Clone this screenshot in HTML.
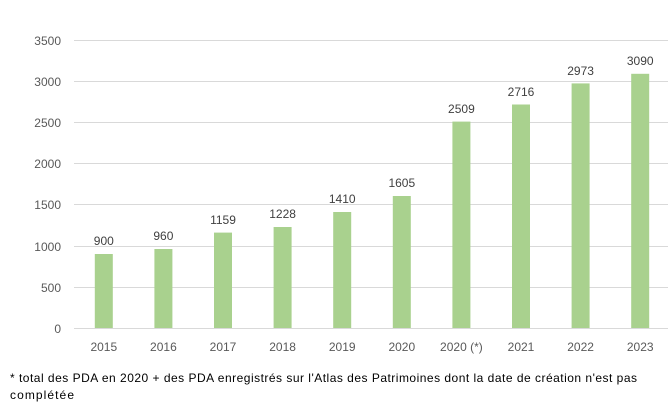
<!DOCTYPE html>
<html><head><meta charset="utf-8"><style>
body{margin:0;background:#fff;}
svg{display:block;font-family:"Liberation Sans",sans-serif;}
</style></head><body>
<svg width="668" height="410" xmlns="http://www.w3.org/2000/svg">
<g stroke="#d9d9d9" stroke-width="1">
<line x1="74" x2="668" y1="40.5" y2="40.5"/>
<line x1="74" x2="668" y1="81.5" y2="81.5"/>
<line x1="74" x2="668" y1="122.5" y2="122.5"/>
<line x1="74" x2="668" y1="163.5" y2="163.5"/>
<line x1="74" x2="668" y1="204.5" y2="204.5"/>
<line x1="74" x2="668" y1="246.5" y2="246.5"/>
<line x1="74" x2="668" y1="287.5" y2="287.5"/>
<line x1="74" x2="668" y1="328.5" y2="328.5"/>
</g>
<g fill="#595959" font-size="12" text-anchor="end">
<text x="61" y="45">3500</text><text x="61" y="86">3000</text><text x="61" y="127">2500</text>
<text x="61" y="168">2000</text><text x="61" y="209">1500</text><text x="61" y="251">1000</text>
<text x="61" y="292">500</text><text x="61" y="333">0</text>
</g>
<g fill="#a9d18e">
<rect x="94.8" y="254" width="18" height="74"/>
<rect x="154.4" y="249" width="18" height="79"/>
<rect x="214" y="232.6" width="18" height="95.4"/>
<rect x="273.6" y="227" width="18" height="101"/>
<rect x="333.2" y="212" width="18" height="116"/>
<rect x="392.8" y="196" width="18" height="132"/>
<rect x="452.4" y="121.6" width="18" height="206.4"/>
<rect x="512" y="104.5" width="18" height="223.5"/>
<rect x="571.6" y="83.4" width="18" height="244.6"/>
<rect x="631.2" y="73.8" width="18" height="254.2"/>
</g>
<g fill="#404040" font-size="12" text-anchor="middle">
<text x="103.8" y="245">900</text><text x="163.4" y="240">960</text><text x="223" y="224">1159</text>
<text x="282.6" y="218">1228</text><text x="342.2" y="203">1410</text><text x="401.8" y="187">1605</text>
<text x="461.4" y="113">2509</text><text x="521" y="96">2716</text><text x="580.6" y="75">2973</text>
<text x="640.2" y="65">3090</text>
</g>
<g fill="#595959" font-size="12" text-anchor="middle">
<text x="103.8" y="351">2015</text><text x="163.4" y="351">2016</text><text x="223" y="351">2017</text>
<text x="282.6" y="351">2018</text><text x="342.2" y="351">2019</text><text x="401.8" y="351">2020</text>
<text x="461.4" y="351">2020 (*)</text><text x="521" y="351">2021</text><text x="580.6" y="351">2022</text>
<text x="640.2" y="351">2023</text>
</g>
<g fill="#000" font-size="12">
<text x="10" y="382" textLength="627" lengthAdjust="spacing">* total des PDA en 2020 + des PDA enregistrés sur l'Atlas des Patrimoines dont la date de création n'est pas</text>
<text x="10" y="399" textLength="64" lengthAdjust="spacing">complétée</text>
</g>
</svg>
</body></html>
